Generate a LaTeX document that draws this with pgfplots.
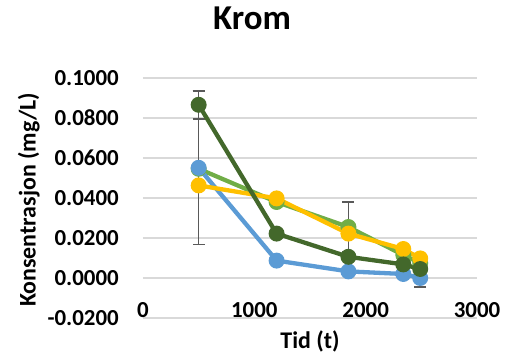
\documentclass[border=0pt]{standalone}
\usepackage{fontspec}
\setmainfont{Carlito}
\usepackage{pgfplots}
\usepackage{pgfplotstable}
\pgfplotsset{compat=1.18}
\definecolor{cblue}{HTML}{5B9BD5}
\definecolor{cgreen}{HTML}{70AD47}
\definecolor{cyellow}{HTML}{FFC000}
\definecolor{cdgreen}{HTML}{43682B}
\definecolor{errgray}{HTML}{595959}
\definecolor{gridgray}{HTML}{D9D9D9}

\pgfplotstableread{
x y
500 0.0551
1200 0.0087
1845 0.0033
2338 0.0020
2490 0.0000
}\blue
\pgfplotstableread{
x y
500 0.0546
1200 0.0380
1845 0.0255
2338 0.0115
2490 0.0075
}\green
\pgfplotstableread{
x y
500 0.0463
1200 0.0398
1845 0.0222
2338 0.0145
2490 0.0098
}\yellow
\pgfplotstableread{
x y
500 0.0866
1200 0.0222
1845 0.0106
2338 0.0068
2490 0.0045
}\dgreen
\pgfplotstableread{
x y e
500 0.0551 0.0383
500 0.0866 0.0070
1200 0.0087 0.0020
1845 0.0255 0.0125
2490 0.0000 0.0045
}\errs

\begin{document}
\begin{tikzpicture}
\useasboundingbox (-143bp,-38bp) rectangle (367bp,318bp);
\begin{axis}[
  at={(0,0)}, anchor=south west,
  scale only axis, width=334bp, height=240bp,
  xmin=0, xmax=3000, ymin=-0.02, ymax=0.1,
  clip=false,
  axis line style={draw=none},
  ymajorgrids, grid style={gridgray, line width=1.2bp},
  major tick length=0pt,
  xtick={0,1000,2000,3000}, xticklabels={0,1000,2000,3000},
  ytick={-0.02,0,0.02,0.04,0.06,0.08,0.1},
  yticklabels={-0.0200,0.0000,0.0200,0.0400,0.0600,0.0800,0.1000},
  ticklabel style={font=\bfseries\fontsize{23}{23}\selectfont, inner sep=0pt},
  xticklabel style={anchor=center, yshift=8bp},
  yticklabel style={anchor=east, xshift=-24bp},
  title={Krom},
  title style={font=\bfseries\fontsize{35}{35}\selectfont, at={(axis description cs:0.5,1)}, anchor=center, xshift=-58bp, yshift=54bp, inner sep=0pt},
  xlabel={Tid (t)},
  xlabel style={font=\bfseries\fontsize{24}{24}\selectfont, at={(axis description cs:0.5,0)}, anchor=center, yshift=-23bp, inner sep=0pt},
  ylabel={Konsentrasjon (mg/L)},
  ylabel style={font=\bfseries\fontsize{24}{24}\selectfont, at={(axis description cs:-0.342,0.492)}, rotate=0, anchor=center, inner sep=0pt},
]
\addplot[draw=none, mark=none, forget plot,
  error bars/.cd, y dir=both, y explicit,
  error bar style={errgray, line width=1.5bp},
  error mark options={errgray, rotate=90, mark size=6bp, line width=1.5bp}]
  table[x=x, y=y, y error=e] {\errs};
\addplot[cgreen, line width=4.3bp, mark=*, mark size=5.8bp, mark options={solid, fill=cgreen, draw=none}] table[x=x,y=y] {\green};
\addplot[cblue, line width=4.3bp, mark=*, mark size=5.8bp, mark options={solid, fill=cblue, draw=none}] table[x=x,y=y] {\blue};
\addplot[cyellow, line width=4.3bp, mark=*, mark size=5.8bp, mark options={solid, fill=cyellow, draw=none}] table[x=x,y=y] {\yellow};
\addplot[cdgreen, line width=4.3bp, mark=*, mark size=5.8bp, mark options={solid, fill=cdgreen, draw=none}] table[x=x,y=y] {\dgreen};
\end{axis}
\end{tikzpicture}
\end{document}
